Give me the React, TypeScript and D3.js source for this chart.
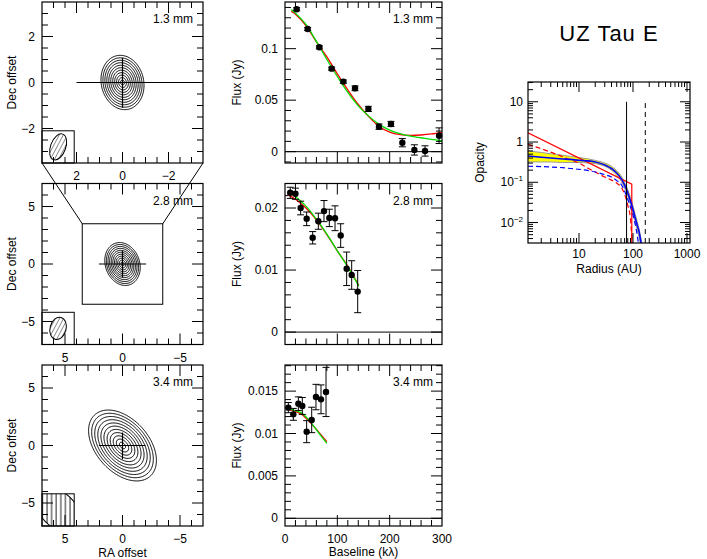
import React from 'react';
import * as d3 from 'd3';

const FONT = '"Liberation Sans", Arial, Helvetica, sans-serif';

// ---------------- Image (contour) panels ----------------
const imgWavelengths = ['1.3 mm', '2.8 mm', '3.4 mm'];
const imgHalfRange = [3.5, 7, 7];
const imgSigmaMaj = [0.53, 0.85, 1.6];
const imgSigmaMin = [0.41, 0.66, 1.02];
const imgTilt = [-12, -20, -42];
const imgLevels = [0.08, 0.124, 0.184, 0.262, 0.36, 0.47, 0.594, 0.716, 0.828, 0.92, 0.979];
const imgTickLabels = [[2, 0, -2], [5, 0, -5], [5, 0, -5]];
const imgMinorStep = [0.5, 1, 1];
const imgMajorStep = [2, 5, 5];
const beamMaj = [0.59, 0.98, 2.6];
const beamMin = [0.33, 0.7, 1.5];
const beamAngle = [20, 15, -45];
const beamHatch = ['hatchDiag', 'hatchDiag', 'hatchVert'];
const crossH = [[2.0, -3.5], [2.05, -2.05], [2.05, -2.0]];
const crossV = [[1.07, -1.1], [1.13, -1.13], [1.13, -1.2]];

// ---------------- Visibility panels ----------------
const visBase13 = [22.3, 43.3, 65.6, 89.2, 111.5, 133.8, 159.3, 179.6, 202.5, 224.2, 247.2, 267.6, 294.4];
const visFlux13 = [0.1383, 0.1191, 0.1013, 0.0806, 0.068, 0.0615, 0.0415, 0.0243, 0.0269, 0.0087, 0.0017, 0.0007, 0.0155];
const visErr13 = [0.0015, 0.0015, 0.0015, 0.0015, 0.0016, 0.0023, 0.0025, 0.0026, 0.0025, 0.004, 0.005, 0.005, 0.0076];
const modelBase13 = [12, 20, 40, 60, 80, 100, 120, 140, 160, 180, 200, 220, 240, 260, 280, 300];
const modelRed13 = [0.1362, 0.1335, 0.1225, 0.1065, 0.092, 0.0755, 0.06, 0.0458, 0.034, 0.0245, 0.019, 0.0165, 0.0158, 0.0162, 0.0172, 0.0188];
const modelGreen13 = [0.138, 0.1345, 0.1235, 0.107, 0.0895, 0.073, 0.0575, 0.0445, 0.0345, 0.0265, 0.021, 0.0175, 0.015, 0.0135, 0.012, 0.0105];

const visBase28 = [10, 20, 29.9, 41.4, 52.9, 63.7, 74.5, 84.7, 95.6, 106.4, 117.8, 127.4, 138.9];
const visFlux28 = [0.02245, 0.0223, 0.02, 0.01826, 0.0152, 0.01787, 0.0195, 0.0184, 0.01835, 0.01556, 0.0102, 0.0092, 0.00653];
const visErr28 = [0.0009, 0.0009, 0.0011, 0.0011, 0.001, 0.0013, 0.0017, 0.0014, 0.002, 0.0019, 0.0027, 0.0023, 0.0034];
const modelBase28 = [5, 20, 40, 60, 80, 100, 120, 141];
const modelRed28 = [0.0222, 0.0214, 0.02, 0.0181, 0.0157, 0.0131, 0.0106, 0.0075];
const modelGreen28 = [0.02255, 0.0218, 0.0203, 0.0182, 0.0158, 0.0131, 0.0105, 0.0074];

const visBase34 = [6.4, 15.9, 25.5, 33.1, 41.4, 51, 59.2, 68.8, 78.4];
const visFlux34 = [0.01305, 0.01226, 0.01352, 0.01325, 0.01022, 0.0116, 0.0143, 0.01403, 0.0149];
const visErr34 = [0.0006, 0.0007, 0.0008, 0.001, 0.0013, 0.0015, 0.0015, 0.0017, 0.0029];
const modelBase34 = [3, 20, 32, 51, 64, 80];
const modelRed34 = [0.0129, 0.0126, 0.01226, 0.0111, 0.0102, 0.00904];
const modelGreen34 = [0.013, 0.0127, 0.0124, 0.0112, 0.0101, 0.00884];

const visYDomain = [[-0.011, 0.1453], [-0.002, 0.02395], [-0.00091, 0.01808]];
const visYMinor = [0.01, 0.002, 0.001];
const visYMajor = [0.05, 0.01, 0.005];
const visYLabels = [['0', '0.05', '0.1'], ['0', '0.01', '0.02'], ['0', '0.005', '0.01', '0.015']];
const baselineTickLabels = [0, 100, 200, 300];

// ---------------- Opacity panel ----------------
const radiusBand = [1.137, 2, 3, 5, 7, 10, 15, 20, 30, 40, 50, 60, 70, 80, 90, 100, 110, 120, 130, 140, 150, 160];
const bandUpper = [0.6, 0.55, 0.51, 0.47, 0.44, 0.41, 0.38, 0.35, 0.3, 0.25, 0.195, 0.145, 0.1, 0.066, 0.042, 0.026, 0.016, 0.0105, 0.0068, 0.0042, 0.0027, 0.0017];
const bandLower = [0.32, 0.32, 0.32, 0.31, 0.31, 0.31, 0.3, 0.29, 0.25, 0.2, 0.15, 0.108, 0.072, 0.046, 0.028, 0.017, 0.0105, 0.0066, 0.0042, 0.0026, 0.0016, 0.001];
const blueSolid = [0.45, 0.42, 0.4, 0.38, 0.37, 0.35, 0.34, 0.32, 0.27, 0.22, 0.17, 0.125, 0.085, 0.055, 0.034, 0.021, 0.013, 0.0085, 0.0058, 0.0033, 0.0018, 0.001];
const radiusDashBlue = [1.137, 2, 3, 5, 7, 10, 15, 20, 30, 40, 50, 60, 70, 80, 90, 100, 110, 120, 130, 140];
const blueDashed = [0.25, 0.245, 0.24, 0.23, 0.22, 0.21, 0.195, 0.18, 0.155, 0.135, 0.11, 0.09, 0.06, 0.038, 0.024, 0.015, 0.009, 0.0048, 0.0022, 0.001];
const radiusDashRed = [1.137, 2, 3, 5, 7, 10, 15, 20, 30, 40, 50, 60, 70, 80, 90, 100];
const redDashed = [0.88, 0.68, 0.56, 0.43, 0.36, 0.3, 0.22, 0.18, 0.135, 0.113, 0.095, 0.077, 0.05, 0.027, 0.012, 0.001];
const radiusRedSolid = [1.137, 95, 95];
const redSolid = [1.7, 0.09, 0.0005];
const rcBlackSolid = 76;
const rcBlackDashed = 169;
const opXLabels = [10, 100, 1000];
const opYLabels: [number, string, string][] = [[10, '10', ''], [1, '1', ''], [0.1, '10', '−1'], [0.01, '10', '−2']];

// ---------------- layout ----------------
const PANEL_TOPS = [2, 183.5, 365];
const SIZE = 161;
const IMG_LEFT = 42;
const VIS_LEFT = 285;
const VIS_RIGHT = 442;

const fmtMinus = (v: number) => (v < 0 ? '−' + Math.abs(v) : String(v));
const isMult = (v: number, step: number) => Math.abs(v / step - Math.round(v / step)) < 1e-6;

function ImagePanel({ idx }: { idx: number }) {
  const top = PANEL_TOPS[idx];
  const left = IMG_LEFT;
  const half = imgHalfRange[idx];
  const x = d3.scaleLinear().domain([half, -half]).range([left, left + SIZE]);
  const y = d3.scaleLinear().domain([-half, half]).range([top + SIZE, top]);
  const n = 200;
  const vals: number[] = new Array(n * n);
  const th = (imgTilt[idx] * Math.PI) / 180;
  const c = Math.cos(th), s = Math.sin(th);
  const smaj = imgSigmaMaj[idx], smin = imgSigmaMin[idx];
  for (let j = 0; j < n; j++) {
    for (let i = 0; i < n; i++) {
      const X = ((i + 0.5) / n) * 2 * half - half;
      const Y = ((j + 0.5) / n) * 2 * half - half;
      const u = X * c + Y * s;
      const v = -X * s + Y * c;
      vals[j * n + i] = Math.exp(-0.5 * ((u * u) / (smin * smin) + (v * v) / (smaj * smaj)));
    }
  }
  const contours = d3.contours().size([n, n]).thresholds(imgLevels)(vals);
  const path = d3.geoPath(d3.geoIdentity().scale(SIZE / n).translate([left, top]) as any);

  const ticks = d3.range(-half, half + 1e-9, imgMinorStep[idx]).filter((v) => Math.abs(Math.abs(v) - half) > 1e-6);
  const tl = (v: number) => (isMult(v, imgMajorStep[idx]) ? 11 : 6);
  const boxSize = 2 * half * 0.2;
  const bx0 = x(half), bx1 = x(half - boxSize), by0 = y(-half + boxSize), by1 = y(-half);
  const bcx = x(half - boxSize / 2), bcy = y(-half + boxSize / 2);
  const k = SIZE / (2 * half);
  const boxClip = `beambox${idx}`;
  const ellClip = `beamell${idx}`;
  const bottom = top + SIZE;
  const ellTransform = `rotate(${beamAngle[idx]} ${bcx} ${bcy})`;
  return (
    <g>
      <defs>
        <clipPath id={boxClip}>
          <rect x={bx0} y={by0} width={bx1 - bx0} height={by1 - by0} />
        </clipPath>
        <clipPath id={ellClip}>
          <ellipse cx={bcx} cy={bcy} rx={beamMin[idx] * k} ry={beamMaj[idx] * k} transform={ellTransform} />
        </clipPath>
      </defs>
      {contours.map((cn, i) => (
        <path key={i} d={path(cn as any) || ''} fill="none" stroke="#000" strokeWidth={1} />
      ))}
      <line x1={x(crossH[idx][0])} x2={x(crossH[idx][1])} y1={y(0)} y2={y(0)} stroke="#000" strokeWidth={1.2} />
      <line x1={x(0)} x2={x(0)} y1={y(crossV[idx][0])} y2={y(crossV[idx][1])} stroke="#000" strokeWidth={1.2} />
      <g clipPath={`url(#${boxClip})`}>
        <g clipPath={`url(#${ellClip})`}>
          <rect x={bx0 - 20} y={by0 - 20} width={bx1 - bx0 + 40} height={by1 - by0 + 40} fill={`url(#${beamHatch[idx]})`} />
        </g>
        <ellipse
          cx={bcx}
          cy={bcy}
          rx={beamMin[idx] * k}
          ry={beamMaj[idx] * k}
          transform={ellTransform}
          fill="none"
          stroke="#000"
          strokeWidth={1}
        />
      </g>
      <rect x={bx0} y={by0} width={bx1 - bx0} height={by1 - by0} fill="none" stroke="#000" strokeWidth={1} />
      {ticks.map((v) => (
        <g key={'t' + v}>
          <line x1={x(v)} x2={x(v)} y1={bottom} y2={bottom - tl(v)} stroke="#000" />
          <line x1={x(v)} x2={x(v)} y1={top} y2={top + tl(v)} stroke="#000" />
          <line x1={left} x2={left + tl(v)} y1={y(v)} y2={y(v)} stroke="#000" />
          <line x1={left + SIZE} x2={left + SIZE - tl(v)} y1={y(v)} y2={y(v)} stroke="#000" />
        </g>
      ))}
      <rect x={left} y={top} width={SIZE} height={SIZE} fill="none" stroke="#000" strokeWidth={1.2} />
      {imgTickLabels[idx].map((v) => (
        <text key={'xl' + v} x={x(v)} y={bottom + 17} textAnchor="middle" fontSize={12}>
          {fmtMinus(v)}
        </text>
      ))}
      {imgTickLabels[idx].map((v) => (
        <text key={'yl' + v} x={left - 7} y={y(v)} dy="0.35em" textAnchor="end" fontSize={12}>
          {fmtMinus(v)}
        </text>
      ))}
      <text x={left + SIZE - 10} y={top + 21} textAnchor="end" fontSize={12}>
        {imgWavelengths[idx]}
      </text>
      <text transform={`translate(12 ${top + SIZE / 2}) rotate(-90)`} textAnchor="middle" dy="0.35em" fontSize={12}>
        Dec offset
      </text>
      {idx === 2 && (
        <text x={left + SIZE / 2} y={557} textAnchor="middle" fontSize={12}>
          RA offset
        </text>
      )}
    </g>
  );
}

function Connectors() {
  const y1 = PANEL_TOPS[0] + SIZE;
  const half = imgHalfRange[1];
  const x2 = d3.scaleLinear().domain([half, -half]).range([IMG_LEFT, IMG_LEFT + SIZE]);
  const y2 = d3.scaleLinear().domain([-half, half]).range([PANEL_TOPS[1] + SIZE, PANEL_TOPS[1]]);
  const h = imgHalfRange[0];
  return (
    <g stroke="#000" strokeWidth={1} fill="none">
      <rect x={x2(h)} y={y2(h)} width={x2(-h) - x2(h)} height={y2(-h) - y2(h)} />
      <line x1={IMG_LEFT} y1={y1} x2={x2(h)} y2={y2(h)} />
      <line x1={IMG_LEFT + SIZE} y1={y1} x2={x2(-h)} y2={y2(h)} />
    </g>
  );
}

const visData = [
  { base: visBase13, flux: visFlux13, err: visErr13, mb: modelBase13, red: modelRed13, green: modelGreen13 },
  { base: visBase28, flux: visFlux28, err: visErr28, mb: modelBase28, red: modelRed28, green: modelGreen28 },
  { base: visBase34, flux: visFlux34, err: visErr34, mb: modelBase34, red: modelRed34, green: modelGreen34 },
];

function VisPanel({ idx }: { idx: number }) {
  const top = PANEL_TOPS[idx];
  const bottom = top + SIZE;
  const x = d3.scaleLinear().domain([0, 300]).range([VIS_LEFT, VIS_RIGHT]);
  const dom = visYDomain[idx];
  const y = d3.scaleLinear().domain(dom).range([bottom, top]);
  const dd = visData[idx];
  const line = d3
    .line<number>()
    .x((_, i) => x(dd.mb[i]))
    .curve(d3.curveCatmullRom);
  const redPath = line.y((v) => y(v))(dd.red) || '';
  const greenPath = line.y((v) => y(v))(dd.green) || '';
  const yStep = visYMinor[idx];
  const yTicks = d3
    .range(Math.ceil(dom[0] / yStep - 1e-6) * yStep, dom[1], yStep)
    .map((v) => Math.round(v / yStep) * yStep)
    .filter((v) => y(v) > top + 0.5 && y(v) < bottom - 0.5);
  const xTicks = d3.range(20, 300, 20);
  const ytl = (v: number) => (isMult(v, visYMajor[idx]) ? 11 : 6);
  const xtl = (v: number) => (isMult(v, 100) ? 11 : 6);
  const labelVals = visYLabels[idx];
  return (
    <g>
      <line x1={VIS_LEFT} x2={VIS_RIGHT} y1={y(0)} y2={y(0)} stroke="#000" strokeWidth={1} />
      {yTicks.map((v, i) => (
        <g key={'y' + i}>
          <line x1={VIS_LEFT} x2={VIS_LEFT + ytl(v)} y1={y(v)} y2={y(v)} stroke="#000" />
          <line x1={VIS_RIGHT} x2={VIS_RIGHT - ytl(v)} y1={y(v)} y2={y(v)} stroke="#000" />
        </g>
      ))}
      {xTicks.map((v) => (
        <g key={'x' + v}>
          <line x1={x(v)} x2={x(v)} y1={bottom} y2={bottom - xtl(v)} stroke="#000" />
          <line x1={x(v)} x2={x(v)} y1={top} y2={top + xtl(v)} stroke="#000" />
        </g>
      ))}
      <path d={redPath} fill="none" stroke="#ff0000" strokeWidth={1.3} />
      <path d={greenPath} fill="none" stroke="#00dd00" strokeWidth={1.3} />
      {dd.base.map((b, i) => {
        const cx = x(b);
        const yHi = y(dd.flux[i] + dd.err[i]);
        const yLo = y(dd.flux[i] - dd.err[i]);
        return (
          <g key={'p' + i}>
            <line x1={cx} x2={cx} y1={yHi} y2={yLo} stroke="#000" strokeWidth={1} />
            <line x1={cx - 3.5} x2={cx + 3.5} y1={yHi} y2={yHi} stroke="#000" strokeWidth={1} />
            <line x1={cx - 3.5} x2={cx + 3.5} y1={yLo} y2={yLo} stroke="#000" strokeWidth={1} />
            <circle cx={cx} cy={y(dd.flux[i])} r={3.2} fill="#000" />
          </g>
        );
      })}
      <rect x={VIS_LEFT} y={top} width={VIS_RIGHT - VIS_LEFT} height={SIZE} fill="none" stroke="#000" strokeWidth={1.2} />
      {labelVals.map((s) => (
        <text key={s} x={VIS_LEFT - 7} y={y(parseFloat(s))} dy="0.35em" textAnchor="end" fontSize={12}>
          {s}
        </text>
      ))}
      <text x={VIS_RIGHT - 9} y={top + 21} textAnchor="end" fontSize={12}>
        {imgWavelengths[idx]}
      </text>
      <text transform={`translate(237 ${top + SIZE / 2}) rotate(-90)`} textAnchor="middle" dy="0.35em" fontSize={12}>
        Flux (Jy)
      </text>
      {idx === 2 &&
        baselineTickLabels.map((v) => (
          <text key={'bl' + v} x={x(v)} y={bottom + 17} textAnchor="middle" fontSize={12}>
            {v}
          </text>
        ))}
      {idx === 2 && (
        <text x={(VIS_LEFT + VIS_RIGHT) / 2} y={556} textAnchor="middle" fontSize={12}>
          Baseline (kλ)
        </text>
      )}
    </g>
  );
}

function OpacityPanel() {
  const L = 528, R = 690, T = 82, B = 243;
  const x = d3.scaleLog().domain([1.137, 1137]).range([L, R]);
  const y = d3.scaleLog().domain([0.0031, 31]).range([B, T]);
  const lineOf = (rs: number[]) =>
    d3
      .line<number>()
      .x((_, i) => x(rs[i]))
      .y((v) => y(v))
      .curve(d3.curveMonotoneX);
  const band = d3
    .area<number>()
    .x((_, i) => x(radiusBand[i]))
    .y0((_, i) => y(bandLower[i]))
    .y1((_, i) => y(bandUpper[i]))
    .curve(d3.curveMonotoneX)(radiusBand) || '';
  const xTicks: number[] = [];
  for (let e = 0; e <= 3; e++) for (let m = 1; m <= 9; m++) xTicks.push(m * Math.pow(10, e));
  const yTicks: number[] = [];
  for (let e = -3; e <= 1; e++) for (let m = 1; m <= 9; m++) yTicks.push(m * Math.pow(10, e));
  const xt = xTicks.filter((v) => x(v) > L + 0.5 && x(v) < R - 0.5);
  const yt = yTicks.filter((v) => y(v) > T + 0.5 && y(v) < B - 0.5);
  const isDec = (v: number) => Math.abs(Math.log10(v) - Math.round(Math.log10(v))) < 1e-6;
  const tl = (v: number) => (isDec(v) ? 10 : 5);
  const redSolidPath = d3
    .line<number>()
    .x((_, i) => x(radiusRedSolid[i]))
    .y((v) => y(v))(redSolid) || '';
  return (
    <g>
      <defs>
        <clipPath id="opclip">
          <rect x={L} y={T} width={R - L} height={B - T} />
        </clipPath>
      </defs>
      <text x={609} y={41} textAnchor="middle" fontSize={22} letterSpacing={1}>
        UZ Tau E
      </text>
      <g clipPath="url(#opclip)">
        <path d={band} fill="#ffff00" stroke="none" />
        <path d={lineOf(radiusBand)(bandUpper) || ''} fill="none" stroke="#999" strokeWidth={1} />
        <path d={lineOf(radiusBand)(bandLower) || ''} fill="none" stroke="#999" strokeWidth={1} />
        <path d={lineOf(radiusDashRed)(redDashed) || ''} fill="none" stroke="#ff0000" strokeWidth={1.2} strokeDasharray="5,3" />
        <path d={lineOf(radiusDashBlue)(blueDashed) || ''} fill="none" stroke="#0000ff" strokeWidth={1.2} strokeDasharray="5,3" />
        <path d={redSolidPath} fill="none" stroke="#ff0000" strokeWidth={1.2} />
        <path d={lineOf(radiusBand)(blueSolid) || ''} fill="none" stroke="#0000ff" strokeWidth={1.6} />
        <line x1={x(rcBlackSolid)} x2={x(rcBlackSolid)} y1={y(10)} y2={B} stroke="#000" strokeWidth={1} />
        <line x1={x(rcBlackDashed)} x2={x(rcBlackDashed)} y1={y(9.3)} y2={B} stroke="#000" strokeWidth={1} strokeDasharray="5,4" />
      </g>
      {xt.map((v, i) => (
        <g key={'x' + i}>
          <line x1={x(v)} x2={x(v)} y1={B} y2={B - tl(v)} stroke="#000" />
          <line x1={x(v)} x2={x(v)} y1={T} y2={T + tl(v)} stroke="#000" />
        </g>
      ))}
      {yt.map((v, i) => (
        <g key={'y' + i}>
          <line x1={L} x2={L + tl(v)} y1={y(v)} y2={y(v)} stroke="#000" />
          <line x1={R} x2={R - tl(v)} y1={y(v)} y2={y(v)} stroke="#000" />
        </g>
      ))}
      <rect x={L} y={T} width={R - L} height={B - T} fill="none" stroke="#000" strokeWidth={1.2} />
      {opXLabels.map((v) => (
        <text key={'xl' + v} x={x(v)} y={B + 15} textAnchor="middle" fontSize={12}>
          {v}
        </text>
      ))}
      {opYLabels.map(([v, base, sup]) => (
        <text key={'yl' + v} x={L - 5} y={y(v)} dy="0.35em" textAnchor="end" fontSize={12}>
          {base}
          {sup && (
            <tspan fontSize={8} dy={-5}>
              {sup}
            </tspan>
          )}
        </text>
      ))}
      <text x={(L + R) / 2} y={273} textAnchor="middle" fontSize={12}>
        Radius (AU)
      </text>
      <text transform={`translate(480 ${(T + B) / 2}) rotate(-90)`} textAnchor="middle" dy="0.35em" fontSize={12}>
        Opacity
      </text>
    </g>
  );
}

export default function App() {
  return (
    <svg
      width={707}
      height={559}
      style={{ position: 'absolute', left: 0, top: 0, display: 'block', background: '#fff' }}
      fontFamily={FONT}
    >
      <rect x={0} y={0} width={707} height={559} fill="#fff" />
      <defs>
        <pattern id="hatchDiag" patternUnits="userSpaceOnUse" width={3.6} height={10} patternTransform="rotate(28)">
          <line x1={0} y1={0} x2={0} y2={10} stroke="#000" strokeWidth={0.9} />
        </pattern>
        <pattern id="hatchVert" patternUnits="userSpaceOnUse" width={4.6} height={10}>
          <line x1={1} y1={0} x2={1} y2={10} stroke="#000" strokeWidth={0.9} />
        </pattern>
      </defs>
      {[0, 1, 2].map((i) => (
        <ImagePanel key={'img' + i} idx={i} />
      ))}
      <Connectors />
      {[0, 1, 2].map((i) => (
        <VisPanel key={'vis' + i} idx={i} />
      ))}
      <OpacityPanel />
    </svg>
  );
}
